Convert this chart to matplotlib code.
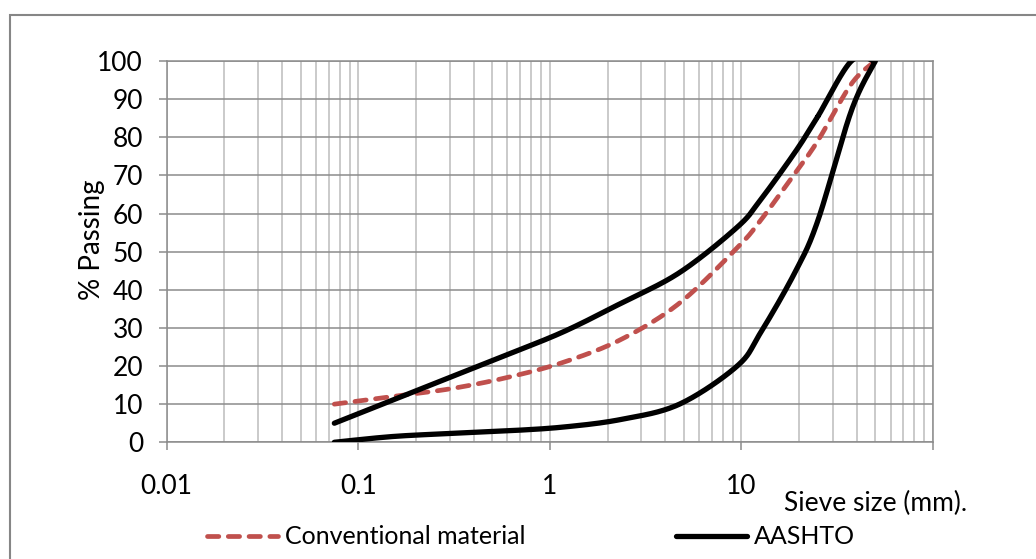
import numpy as np
import matplotlib
matplotlib.use("Agg")
import matplotlib.pyplot as plt
from matplotlib.patches import Rectangle
from matplotlib.ticker import FixedLocator, LogLocator, NullFormatter

plt.rcParams['font.family'] = ['Lato', 'DejaVu Sans']

# sieve sizes in mm and percent passing
sieve = [0.075, 0.15, 0.3, 0.6, 1.18, 2.36, 4.75, 9.5, 12.5, 19, 25, 37.5, 50]
conventional = [10, 12, 14, 17, 21, 27, 36.5, 51, 58, 70.5, 79, 94, 100]
aashto_lower = [0, 1.5, 2.3, 3, 4, 6, 10, 20, 28.5, 44.5, 58, 87, 100]
sieve_upper = [0.075, 0.15, 0.3, 0.6, 1.18, 2.36, 4.75, 9.5, 12.5, 19, 25, 37.5]
aashto_upper = [5, 11, 17, 23, 29, 36.5, 44.5, 56.4, 63.4, 76, 85.4, 100]

x_ticks = [0.01, 0.1, 1, 10, 100]
x_ticklabels = ['0.01', '0.1', '1', '10', '']
y_ticks = list(range(0, 101, 10))


def smooth(xs, ys, n=30):
    # Catmull-Rom spline through the points, in log-x space
    lx = np.log10(np.asarray(xs, float))
    yv = np.asarray(ys, float)
    px = np.concatenate([[lx[0]], lx, [lx[-1]]])
    py = np.concatenate([[yv[0]], yv, [yv[-1]]])
    out_x, out_y = [], []
    t = np.linspace(0, 1, n)
    for i in range(1, len(px) - 2):
        for arr, out in ((px, out_x), (py, out_y)):
            p0, p1, p2, p3 = arr[i - 1], arr[i], arr[i + 1], arr[i + 2]
            seg = 0.5 * ((2 * p1) + (-p0 + p2) * t
                         + (2 * p0 - 5 * p1 + 4 * p2 - p3) * t ** 2
                         + (-p0 + 3 * p1 - 3 * p2 + p3) * t ** 3)
            out.extend(seg)
    return 10 ** np.array(out_x), np.array(out_y)


fig = plt.figure(figsize=(10.36, 5.59), dpi=100)
ax = fig.add_axes([0.1609, 0.2088, 0.9006 - 0.1609, 0.8909 - 0.2088])

# outer chart border
fig.patches.append(Rectangle((10 / 1036, -0.1), 1.2, 1 - 15 / 559 + 0.1,
                             transform=fig.transFigure, fill=False,
                             edgecolor='#868686', linewidth=1.5))

ax.set_xscale('log')
ax.set_xlim(0.01, 100)
ax.set_ylim(0, 100)

ax.xaxis.set_major_locator(FixedLocator(x_ticks))
ax.set_xticklabels(x_ticklabels)
ax.xaxis.set_minor_locator(LogLocator(base=10, subs=np.arange(2, 10)))
ax.xaxis.set_minor_formatter(NullFormatter())
ax.set_yticks(y_ticks)

ax.grid(True, which='major', axis='y', color='#8c8c8c', linewidth=1.1)
ax.grid(True, which='both', axis='x', color='#bcbcbc', linewidth=1.1)
ax.set_axisbelow(True)

for s in ax.spines.values():
    s.set_color('#8c8c8c')
    s.set_linewidth(1.1)

ax.tick_params(axis='both', which='major', direction='out', length=6,
               color='#8c8c8c', width=1.1, labelsize=19)
ax.tick_params(axis='y', which='major', pad=11)
ax.tick_params(axis='x', which='minor', length=0)
ax.tick_params(axis='x', which='major', pad=17)

cx, cy = smooth(sieve, conventional)
ax.plot(cx, cy, color='#C0504D', linewidth=3.4, linestyle=(0, (2.4, 2.0)),
        dash_capstyle='round', label='Conventional material', zorder=3)

# AASHTO envelope drawn as one series: lower limit up, upper limit back down
ax_x = sieve + sieve_upper[::-1]
ax_y = aashto_lower + aashto_upper[::-1]
lx, ly = smooth(ax_x[:len(sieve)], ax_y[:len(sieve)])
ux, uy = smooth(ax_x[len(sieve) - 1:], ax_y[len(sieve) - 1:])
ax.plot(np.concatenate([lx, ux]), np.concatenate([ly, uy]), color='black',
        linewidth=3.8, solid_capstyle='round', label='AASHTO', zorder=4)

fig.text(92 / 1036, 1 - 240 / 559, '% Passing', fontsize=20, rotation=90,
         ha='center', va='center')
fig.text(876 / 1036, 1 - 503 / 559, 'Sieve size (mm).', fontsize=19,
         ha='center', va='center')

fig.legend(loc='center left', bbox_to_anchor=(207 / 1036, 1 - 537 / 559),
           ncol=2, frameon=False, fontsize=18, handlelength=2.85,
           handletextpad=0.28, columnspacing=6.0, borderpad=0, borderaxespad=0)

fig.savefig('out.png', dpi=100)
